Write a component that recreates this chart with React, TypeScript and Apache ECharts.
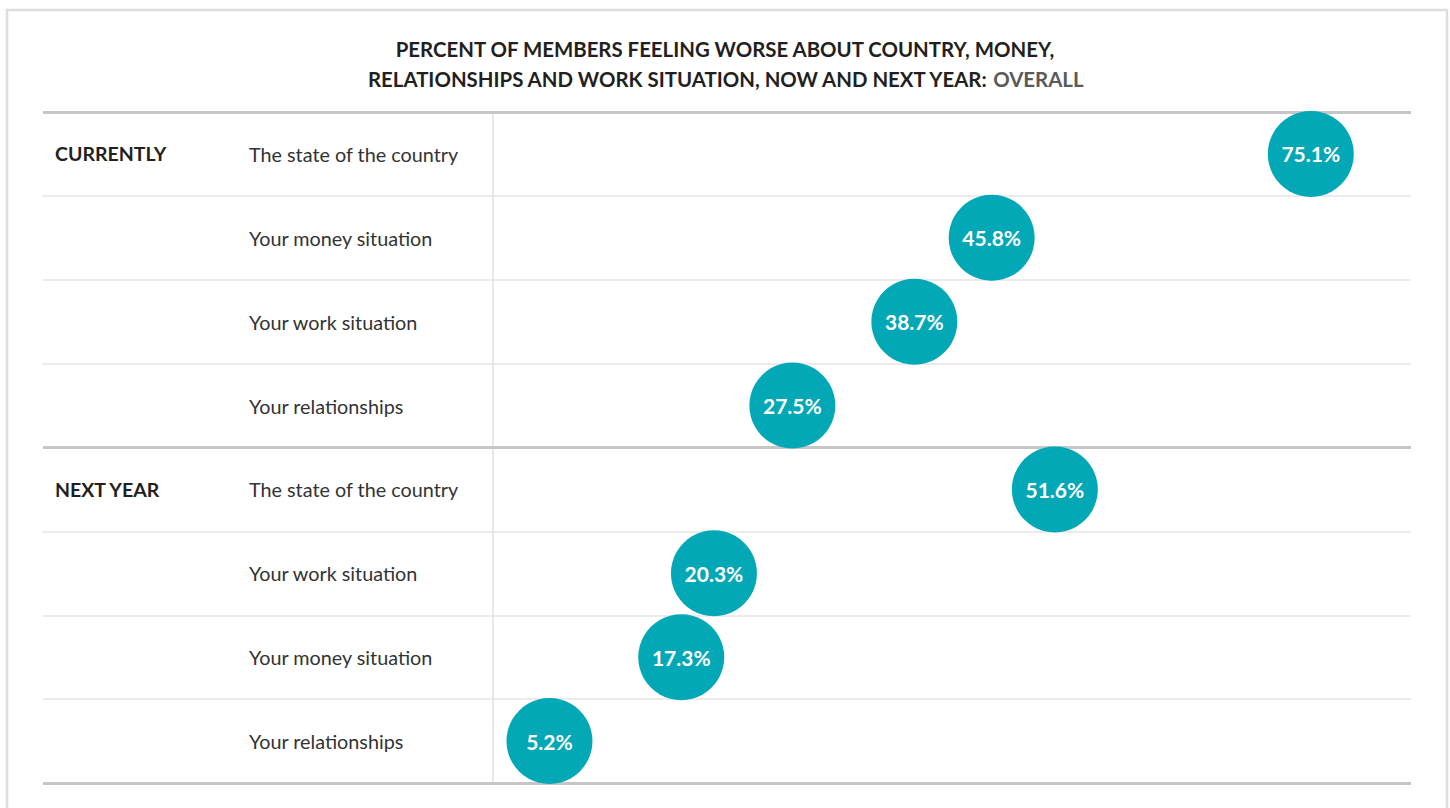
import React, { useEffect, useRef } from "react";
import * as echarts from "echarts";

const titleLine1 = "PERCENT OF MEMBERS FEELING WORSE ABOUT COUNTRY, MONEY,";
const titleLine2 = "RELATIONSHIPS AND WORK SITUATION, NOW AND NEXT YEAR: ";
const titleSuffix = "OVERALL";

const groupNames = ["CURRENTLY", "NEXT YEAR"];
const currentItems = ["The state of the country", "Your money situation", "Your work situation", "Your relationships"];
const currentValues = [75.1, 45.8, 38.7, 27.5];
const nextItems = ["The state of the country", "Your work situation", "Your money situation", "Your relationships"];
const nextValues = [51.6, 20.3, 17.3, 5.2];

const groups = [
  { name: groupNames[0], items: currentItems, values: currentValues },
  { name: groupNames[1], items: nextItems, values: nextValues },
];

const FONT = "'Source Sans Pro', Lato, 'Noto Sans', sans-serif";

export default function App() {
  const ref = useRef<HTMLDivElement>(null);
  useEffect(() => {
    document.body.style.margin = "0";
    if (!ref.current) return;
    const chart = echarts.init(ref.current, undefined, { renderer: "svg" });

    const rowLabels: string[] = [];
    const groupLabels: string[] = [];
    const points: [number, number][] = [];
    const boundaries: number[] = [0];
    let idx = 0;
    groups.forEach((g) => {
      g.items.forEach((it, i) => {
        rowLabels.push(it);
        groupLabels.push(i === 0 ? g.name : "");
        points.push([g.values[i], idx]);
        idx++;
      });
      boundaries.push(idx);
    });
    const nRows = rowLabels.length;

    chart.setOption({
      animation: false,
      textStyle: { fontFamily: FONT },
      title: {
        left: "center",
        top: 29,
        text: `{a|${titleLine1}}\n{a|${titleLine2}}{b|${titleSuffix}}`,
        textStyle: {
          rich: {
            a: { fontFamily: FONT, fontWeight: "bold", fontSize: 20.4, color: "#231f20", lineHeight: 30 },
            b: { fontFamily: FONT, fontWeight: "bold", fontSize: 20.4, color: "#5a5a5a", lineHeight: 30 },
          },
        },
      },
      graphic: [
        {
          type: "rect",
          shape: { x: 7, y: 10, width: 1440, height: 830 },
          style: { fill: "none", stroke: "#dedede", lineWidth: 2.5 },
          silent: true,
          z: -1,
        },
      ],
      grid: { left: 43, right: 39, top: 112, bottom: 25 },
      xAxis: {
        type: "value",
        min: -41.3,
        max: 84.3,
        show: false,
      },
      yAxis: [
        {
          type: "category",
          data: rowLabels,
          inverse: true,
          position: "left",
          offset: -206,
          axisLine: { show: false },
          axisTick: { show: false },
          axisLabel: { align: "left", margin: 0, fontSize: 19.8, color: "#333", fontFamily: FONT },
          splitLine: { show: true, interval: 0, lineStyle: { color: "#e4e4e4", width: 1.5 } },
        },
        {
          type: "category",
          data: groupLabels,
          inverse: true,
          position: "left",
          offset: -12,
          axisLine: { show: false },
          axisTick: { show: false },
          axisLabel: { align: "left", margin: 0, fontSize: 19.5, fontWeight: "bold", color: "#231f20", fontFamily: FONT, interval: 0 },
          splitLine: { show: false },
        },
        {
          type: "value",
          min: 0,
          max: nRows,
          inverse: true,
          show: false,
        },
      ],
      series: [
        {
          type: "scatter",
          yAxisIndex: 2,
          data: [],
          silent: true,
          markLine: {
            symbol: "none",
            silent: true,
            label: { show: false },
            data: [
              { xAxis: 0, lineStyle: { color: "#e0e0e0", width: 1.5, type: "solid" } },
              ...boundaries.map((b) => ({ yAxis: b, lineStyle: { color: "#c6c6c6", width: 3, type: "solid" } })),
            ],
          },
        },
        {
          type: "scatter",
          yAxisIndex: 0,
          data: points,
          symbol: "circle",
          symbolSize: 86,
          itemStyle: { color: "#02a8b5", opacity: 1 },
          z: 5,
          label: {
            show: true,
            position: "inside",
            formatter: (p: any) => `${p.value[0].toFixed(1)}%`,
            color: "#fff",
            fontSize: 21,
            fontWeight: "bold",
            fontFamily: FONT,
          },
        },
      ],
    });
    return () => chart.dispose();
  }, []);
  return <div ref={ref} style={{ width: 1450, height: 808 }} />;
}
